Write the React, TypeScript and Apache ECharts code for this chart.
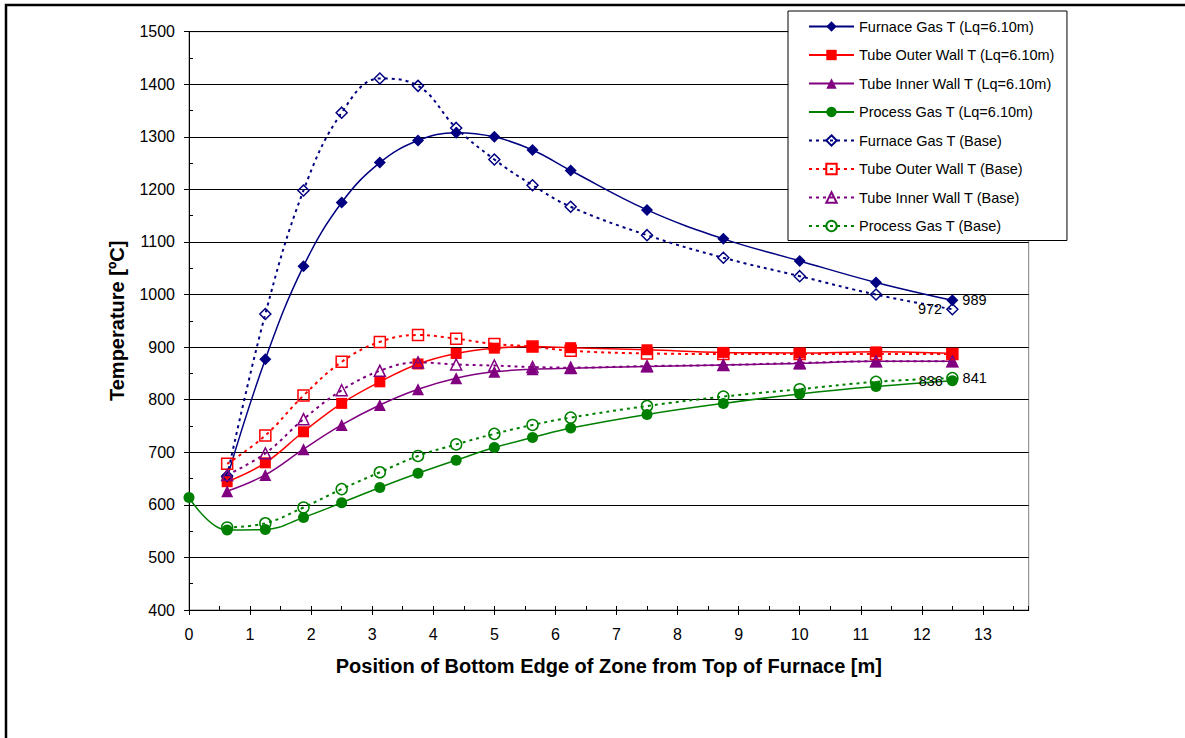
import React, { useEffect, useRef } from 'react';
import * as echarts from 'echarts';

// Position of bottom edge of zone from top of furnace [m]
const positions = [0, 0.625, 1.25, 1.875, 2.5, 3.125, 3.75, 4.375, 5, 5.625, 6.25, 7.5, 8.75, 10, 11.25, 12.5];

// Lq = 6.10 m (values from 0.625 m on, except process gas which starts at 0)
const furnaceGasLq = [652, 877, 1054, 1175, 1251, 1293, 1308, 1300, 1275, 1236, 1161, 1106, 1064, 1023, 989];
const tubeOuterLq = [644, 680, 739, 793, 834, 868, 888, 898, 901, 899, 895, 890, 889, 891, 888];
const tubeInnerLq = [626, 657, 706, 752, 790, 820, 841, 853, 858, 860, 863, 866, 869, 873, 873];
const processGasLq = [614, 552, 553, 576, 604, 633, 660, 685, 709, 728, 746, 772, 793, 811, 825, 836];

// Base case
const furnaceGasBase = [655, 963, 1198, 1346, 1411, 1397, 1317, 1257, 1208, 1167, 1113, 1070, 1035, 1000, 972];
const tubeOuterBase = [678, 732, 808, 872, 910, 923, 916, 906, 901, 893, 888, 887, 887, 887, 887];
const tubeInnerBase = [657, 698, 763, 818, 855, 871, 867, 865, 862, 861, 864, 866, 870, 873, 873];
const processGasBase = [557, 565, 595, 630, 662, 693, 715, 735, 752, 766, 788, 806, 820, 834, 841];

const xTicks = [0, 1, 2, 3, 4, 5, 6, 7, 8, 9, 10, 11, 12, 13];
const yTicks = [400, 500, 600, 700, 800, 900, 1000, 1100, 1200, 1300, 1400, 1500];

const FONT = 'Arial, "Liberation Sans", sans-serif';
const NAVY = '#000080';
const RED = '#FF0000';
const PURPLE = '#800080';
const GREEN = '#008000';

function pairs(vals: number[], labelPos?: string) {
  const xs = positions.slice(positions.length - vals.length);
  return vals.map((v, i) => {
    if (labelPos && i === vals.length - 1) {
      return {
        value: [xs[i], v],
        label: {
          show: true,
          position: labelPos,
          distance: 4,
          formatter: (p: any) => String(p.value[1]),
          color: '#000',
          fontSize: 14.5,
          fontFamily: FONT,
        },
      };
    }
    return { value: [xs[i], v] };
  });
}

function solid(name: string, color: string, symbol: string, size: number, vals: number[], labelPos?: string) {
  return {
    name,
    type: 'line',
    smooth: 0.4,
    data: pairs(vals, labelPos),
    symbol,
    symbolSize: size,
    showAllSymbol: true,
    lineStyle: { color, width: 1.5, type: 'solid' },
    itemStyle: { color, borderColor: color, borderWidth: 0 },
    emphasis: { disabled: true },
    z: 3,
  };
}

function dotted(name: string, color: string, symbol: string, size: number, vals: number[], labelPos?: string) {
  return {
    name,
    type: 'line',
    smooth: 0.4,
    data: pairs(vals, labelPos),
    symbol,
    symbolSize: size,
    showAllSymbol: true,
    lineStyle: { color, width: 2, type: [3, 4] },
    itemStyle: { color: 'rgba(255,255,255,0)', borderColor: color, borderWidth: 1.5 },
    emphasis: { disabled: true },
    z: 4,
  };
}

export default function App() {
  const ref = useRef<HTMLDivElement>(null);
  useEffect(() => {
    const chart = echarts.init(ref.current!, null, { renderer: 'svg' });
    const xMin = 0;
    const xMax = 13.75;
    const yMin = yTicks[0];
    const yMax = yTicks[yTicks.length - 1];
    chart.setOption({
      animation: false,
      backgroundColor: '#fff',
      graphic: [
        {
          type: 'rect',
          shape: { x: 6, y: 5, width: 1400, height: 900 },
          style: { fill: 'none', stroke: '#000', lineWidth: 2.5 },
          z: 100,
          silent: true,
        },
      ],
      grid: {
        left: 189,
        top: 31.7,
        right: 156.3,
        bottom: 128,
        show: true,
        borderColor: '#808080',
        borderWidth: 1,
        containLabel: false,
      },
      legend: {
        orient: 'vertical',
        left: 788,
        top: 11,
        itemWidth: 45,
        itemHeight: 13,
        itemGap: 13.5,
        padding: [8, 12, 7, 20],
        borderColor: '#000',
        borderWidth: 1,
        backgroundColor: '#fff',
        textStyle: { fontSize: 14.5, fontFamily: FONT, color: '#000' },
        data: [
          'Furnace Gas T (Lq=6.10m)',
          'Tube Outer Wall T (Lq=6.10m)',
          'Tube Inner Wall T (Lq=6.10m)',
          'Process Gas T (Lq=6.10m)',
          'Furnace Gas T (Base)',
          'Tube Outer Wall T (Base)',
          'Tube Inner Wall T (Base)',
          'Process Gas T (Base)',
        ],
        z: 10,
      },
      xAxis: [
        {
          type: 'value',
          min: xMin,
          max: xMax,
          interval: 1,
          name: 'Position of Bottom Edge of Zone from Top of Furnace [m]',
          nameLocation: 'middle',
          nameGap: 46,
          nameTextStyle: { fontSize: 20, fontWeight: 'bold', fontFamily: FONT, color: '#000' },
          axisLine: { show: true, lineStyle: { color: '#000', width: 1 } },
          axisTick: { show: true, inside: false, length: 5, lineStyle: { color: '#000' } },
          axisLabel: {
            show: true,
            margin: 16,
            fontSize: 16,
            fontFamily: FONT,
            color: '#000',
            showMaxLabel: false,
            formatter: (v: number) => (xTicks.includes(v) ? String(v) : ''),
          },
          splitLine: { show: false },
        },
        {
          type: 'value',
          min: xMin,
          max: xMax,
          interval: 0.5,
          position: 'bottom',
          axisLine: { show: false },
          axisTick: { show: true, inside: true, length: 4, lineStyle: { color: '#000' } },
          axisLabel: { show: false },
          splitLine: { show: false },
        },
      ],
      yAxis: [
        {
          type: 'value',
          min: yMin,
          max: yMax,
          interval: 100,
          name: 'Temperature [ºC]',
          nameLocation: 'middle',
          nameGap: 62,
          nameTextStyle: { fontSize: 20, fontWeight: 'bold', fontFamily: FONT, color: '#000' },
          axisLine: { show: true, lineStyle: { color: '#000', width: 1 } },
          axisTick: { show: true, inside: false, length: 5, lineStyle: { color: '#000' } },
          axisLabel: {
            margin: 14,
            fontSize: 16,
            fontFamily: FONT,
            color: '#000',
            formatter: (v: number) => (yTicks.includes(v) ? String(v) : ''),
          },
          splitLine: { show: true, lineStyle: { color: '#000', width: 1 } },
        },
        {
          type: 'value',
          min: yMin,
          max: yMax,
          interval: 50,
          position: 'left',
          axisLine: { show: false },
          axisTick: { show: true, inside: true, length: 4, lineStyle: { color: '#000' } },
          axisLabel: { show: false },
          splitLine: { show: false },
        },
      ],
      series: [
        solid('Furnace Gas T (Lq=6.10m)', NAVY, 'diamond', 12, furnaceGasLq, 'right'),
        solid('Tube Outer Wall T (Lq=6.10m)', RED, 'rect', 11, tubeOuterLq),
        solid('Tube Inner Wall T (Lq=6.10m)', PURPLE, 'triangle', 12, tubeInnerLq),
        solid('Process Gas T (Lq=6.10m)', GREEN, 'circle', 11, processGasLq, 'left'),
        dotted('Furnace Gas T (Base)', NAVY, 'diamond', 11, furnaceGasBase, 'left'),
        dotted('Tube Outer Wall T (Base)', RED, 'rect', 11, tubeOuterBase),
        dotted('Tube Inner Wall T (Base)', PURPLE, 'triangle', 11, tubeInnerBase),
        dotted('Process Gas T (Base)', GREEN, 'circle', 11, processGasBase, 'right'),
      ],
    });
    return () => chart.dispose();
  }, []);
  return (
    <div
      ref={ref}
      style={{ position: 'absolute', left: 0, top: 0, width: 1185, height: 738 }}
    />
  );
}
